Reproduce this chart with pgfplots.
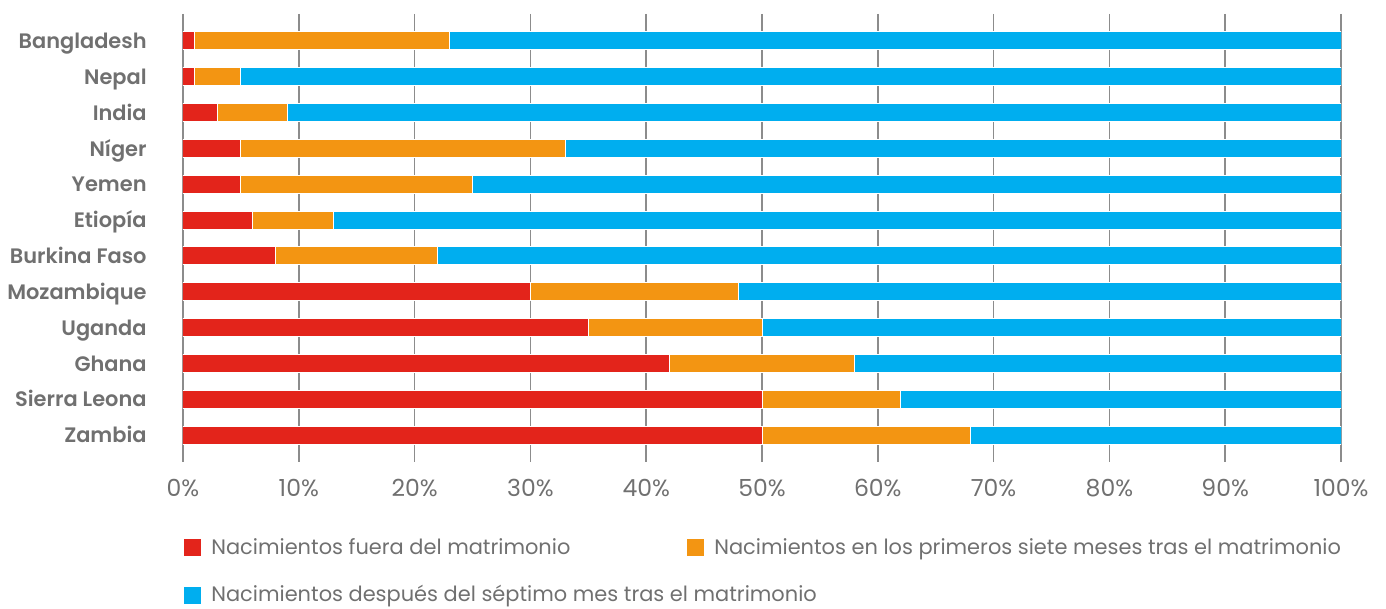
\documentclass[border=0pt]{standalone}
\usepackage{pgfplots}
\pgfplotsset{compat=1.18}
\usepackage{pgfplotstable}
\usepackage{fontspec}
\setmainfont{Poppins}[BoldFont={Poppins SemiBold}]
\definecolor{cRed}{HTML}{E3241B}
\definecolor{cOrange}{HTML}{F39512}
\definecolor{cBlue}{HTML}{00AEEF}
\definecolor{cText}{HTML}{707070}
\definecolor{cGrid}{HTML}{8C8C8C}

% shares (%) per country: outside marriage, first 7 months, after 7th month
\pgfplotstableread{
idx red orange blue
0 1 22 77
1 1 4 95
2 3 6 91
3 5 28 67
4 5 20 75
5 6 7 87
6 8 14 78
7 30 18 52
8 35 15 50
9 42 16 42
10 50 12 38
11 50 18 32
}\data

\begin{document}
\begin{tikzpicture}
\begin{axis}[
  scale only axis,
  width=579bp, height=224bp,
  xbar stacked,
  bar width=9bp,
  xmin=0, xmax=100,
  ymin=-0.75, ymax=11.75,
  y dir=reverse,
  xtick={0,10,...,100},
  xticklabel={\pgfmathprintnumber{\tick}\%},
  /pgf/number format/assume math mode=true,
  ytick={0,...,11},
  yticklabels={Bangladesh,Nepal,India,Níger,Yemen,Etiopía,Burkina Faso,Mozambique,Uganda,Ghana,Sierra Leona,Zambia},
  axis line style={draw=none},
  major tick length=0pt,
  xmajorgrids,
  grid style={cGrid, line width=0.75bp},
  yticklabel style={inner sep=0pt, anchor=base east, xshift=-18bp, yshift=-3.8bp,
    font=\fontsize{10.5}{12}\selectfont\bfseries, text=cText},
  xticklabel style={inner sep=0pt, yshift=-8.5bp, font=\fontsize{11.8}{13}\selectfont, text=cText},
  legend columns=2,
  legend cell align=left,
  legend style={at={(0,0)}, anchor=north west, yshift=-36bp, draw=none, fill=none,
    inner sep=0pt, row sep=10bp,
    font=\fontsize{10.5}{12}\selectfont, text=cText,
    /tikz/column 2/.style={column sep=56bp}},
  legend image code/.code={\fill[#1] (0bp,-4.5bp) rectangle (9bp,4.5bp);},
]
\addplot[fill=cRed, draw=white, line width=0.5bp] table[x=red, y=idx] {\data};
\addplot[fill=cOrange, draw=white, line width=0.5bp] table[x=orange, y=idx] {\data};
\addplot[fill=cBlue, draw=white, line width=0.5bp] table[x=blue, y=idx] {\data};
\legend{\hspace{2.5bp}Nacimientos fuera del matrimonio, \hspace{2.5bp}Nacimientos en los primeros siete meses tras el matrimonio, \makebox[0pt][l]{\hspace{2.5bp}Nacimientos después del séptimo mes tras el matrimonio}}
\end{axis}
% page margins as in the reference
\path ([xshift=-91.5bp, yshift=7bp]current axis.north west) -- ([xshift=22.5bp]current axis.south east);
\end{tikzpicture}
\end{document}
